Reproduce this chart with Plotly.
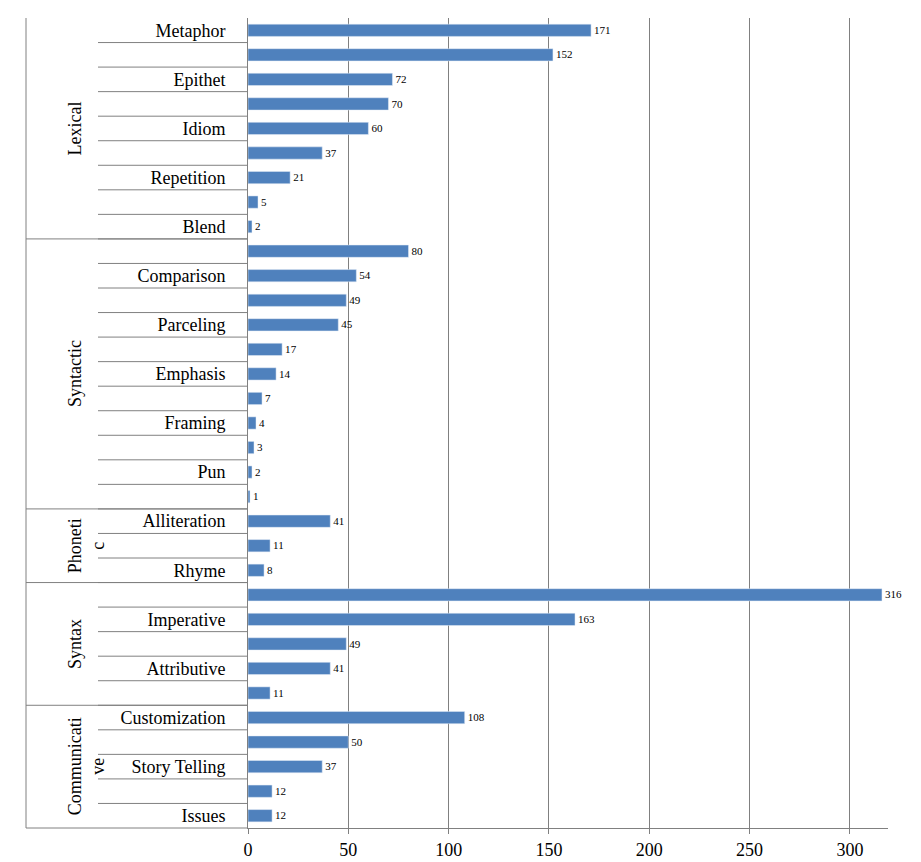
import plotly.graph_objects as go

groups = ["Lexical", "Syntactic", "Phoneti<br>c", "Syntax", "Communicati<br>ve"]
group_sizes = [9, 11, 3, 5, 5]
labels = ["Metaphor", "", "Epithet", "", "Idiom", "", "Repetition", "", "Blend",
          "", "Comparison", "", "Parceling", "", "Emphasis", "", "Framing", "", "Pun", "",
          "Alliteration", "", "Rhyme",
          "", "Imperative", "", "Attributive", "",
          "Customization", "", "Story Telling", "", "Issues"]
values = [171, 152, 72, 70, 60, 37, 21, 5, 2,
          80, 54, 49, 45, 17, 14, 7, 4, 3, 2, 1,
          41, 11, 8,
          316, 163, 49, 41, 11,
          108, 50, 37, 12, 12]

L, R, T, B, W, H = 240, 41, 10, 40, 921, 862
pw = W - L - R
def px(p):
    return (p - L) / pw

pos = list(range(len(values)))
font = dict(family="Liberation Serif", size=18, color="black")

fig = go.Figure(go.Bar(
    y=pos, x=values, orientation="h", marker_color="#4F81BD", width=0.5,
    text=[str(v) for v in values], textposition="outside", textfont=font,
    cliponaxis=False))

shapes = []
# row separators in the category label area
for i in range(1, len(values)):
    shapes.append(dict(type="line", xref="paper", yref="y", x0=px(90), x1=0,
                       y0=i - 0.5, y1=i - 0.5, line=dict(color="#808080", width=1)))
# group separators and group labels
ann = []
start = 0
for g, n in zip(groups, group_sizes):
    end = start + n
    if start > 0:
        shapes.append(dict(type="line", xref="paper", yref="y", x0=px(18), x1=0,
                           y0=start - 0.5, y1=start - 0.5, line=dict(color="#808080", width=1)))
    ann.append(dict(xref="paper", yref="y", x=px(55), y=(start + end - 1) / 2,
                    text=g, textangle=-90, showarrow=False, font=font))
    start = end
shapes.append(dict(type="line", xref="paper", yref="paper", x0=px(18), x1=px(18),
                   y0=0, y1=1, line=dict(color="#808080", width=1)))
shapes.append(dict(type="line", xref="paper", yref="paper", x0=px(18), x1=0,
                   y0=0, y1=0, line=dict(color="#808080", width=1)))

fig.update_layout(
    width=W, height=H, margin=dict(l=L, r=R, t=T, b=B),
    plot_bgcolor="white", paper_bgcolor="white", showlegend=False,
    font=font, shapes=shapes, annotations=ann, bargap=0.5,
    xaxis=dict(range=[0, 319], tickvals=[0, 50, 100, 150, 200, 250, 300],
               showgrid=True, gridcolor="#808080", gridwidth=1, zeroline=False,
               showline=True, linecolor="#808080", ticks="outside", ticklen=5,
               tickcolor="#808080", tickfont=font),
    yaxis=dict(range=[len(values) - 0.5, -0.5], tickvals=pos, ticktext=labels,
               showline=True, linecolor="#808080", ticks="", showgrid=False,
               zeroline=False, tickfont=font, ticklabelstandoff=18),
)
fig.write_html("out.html")
